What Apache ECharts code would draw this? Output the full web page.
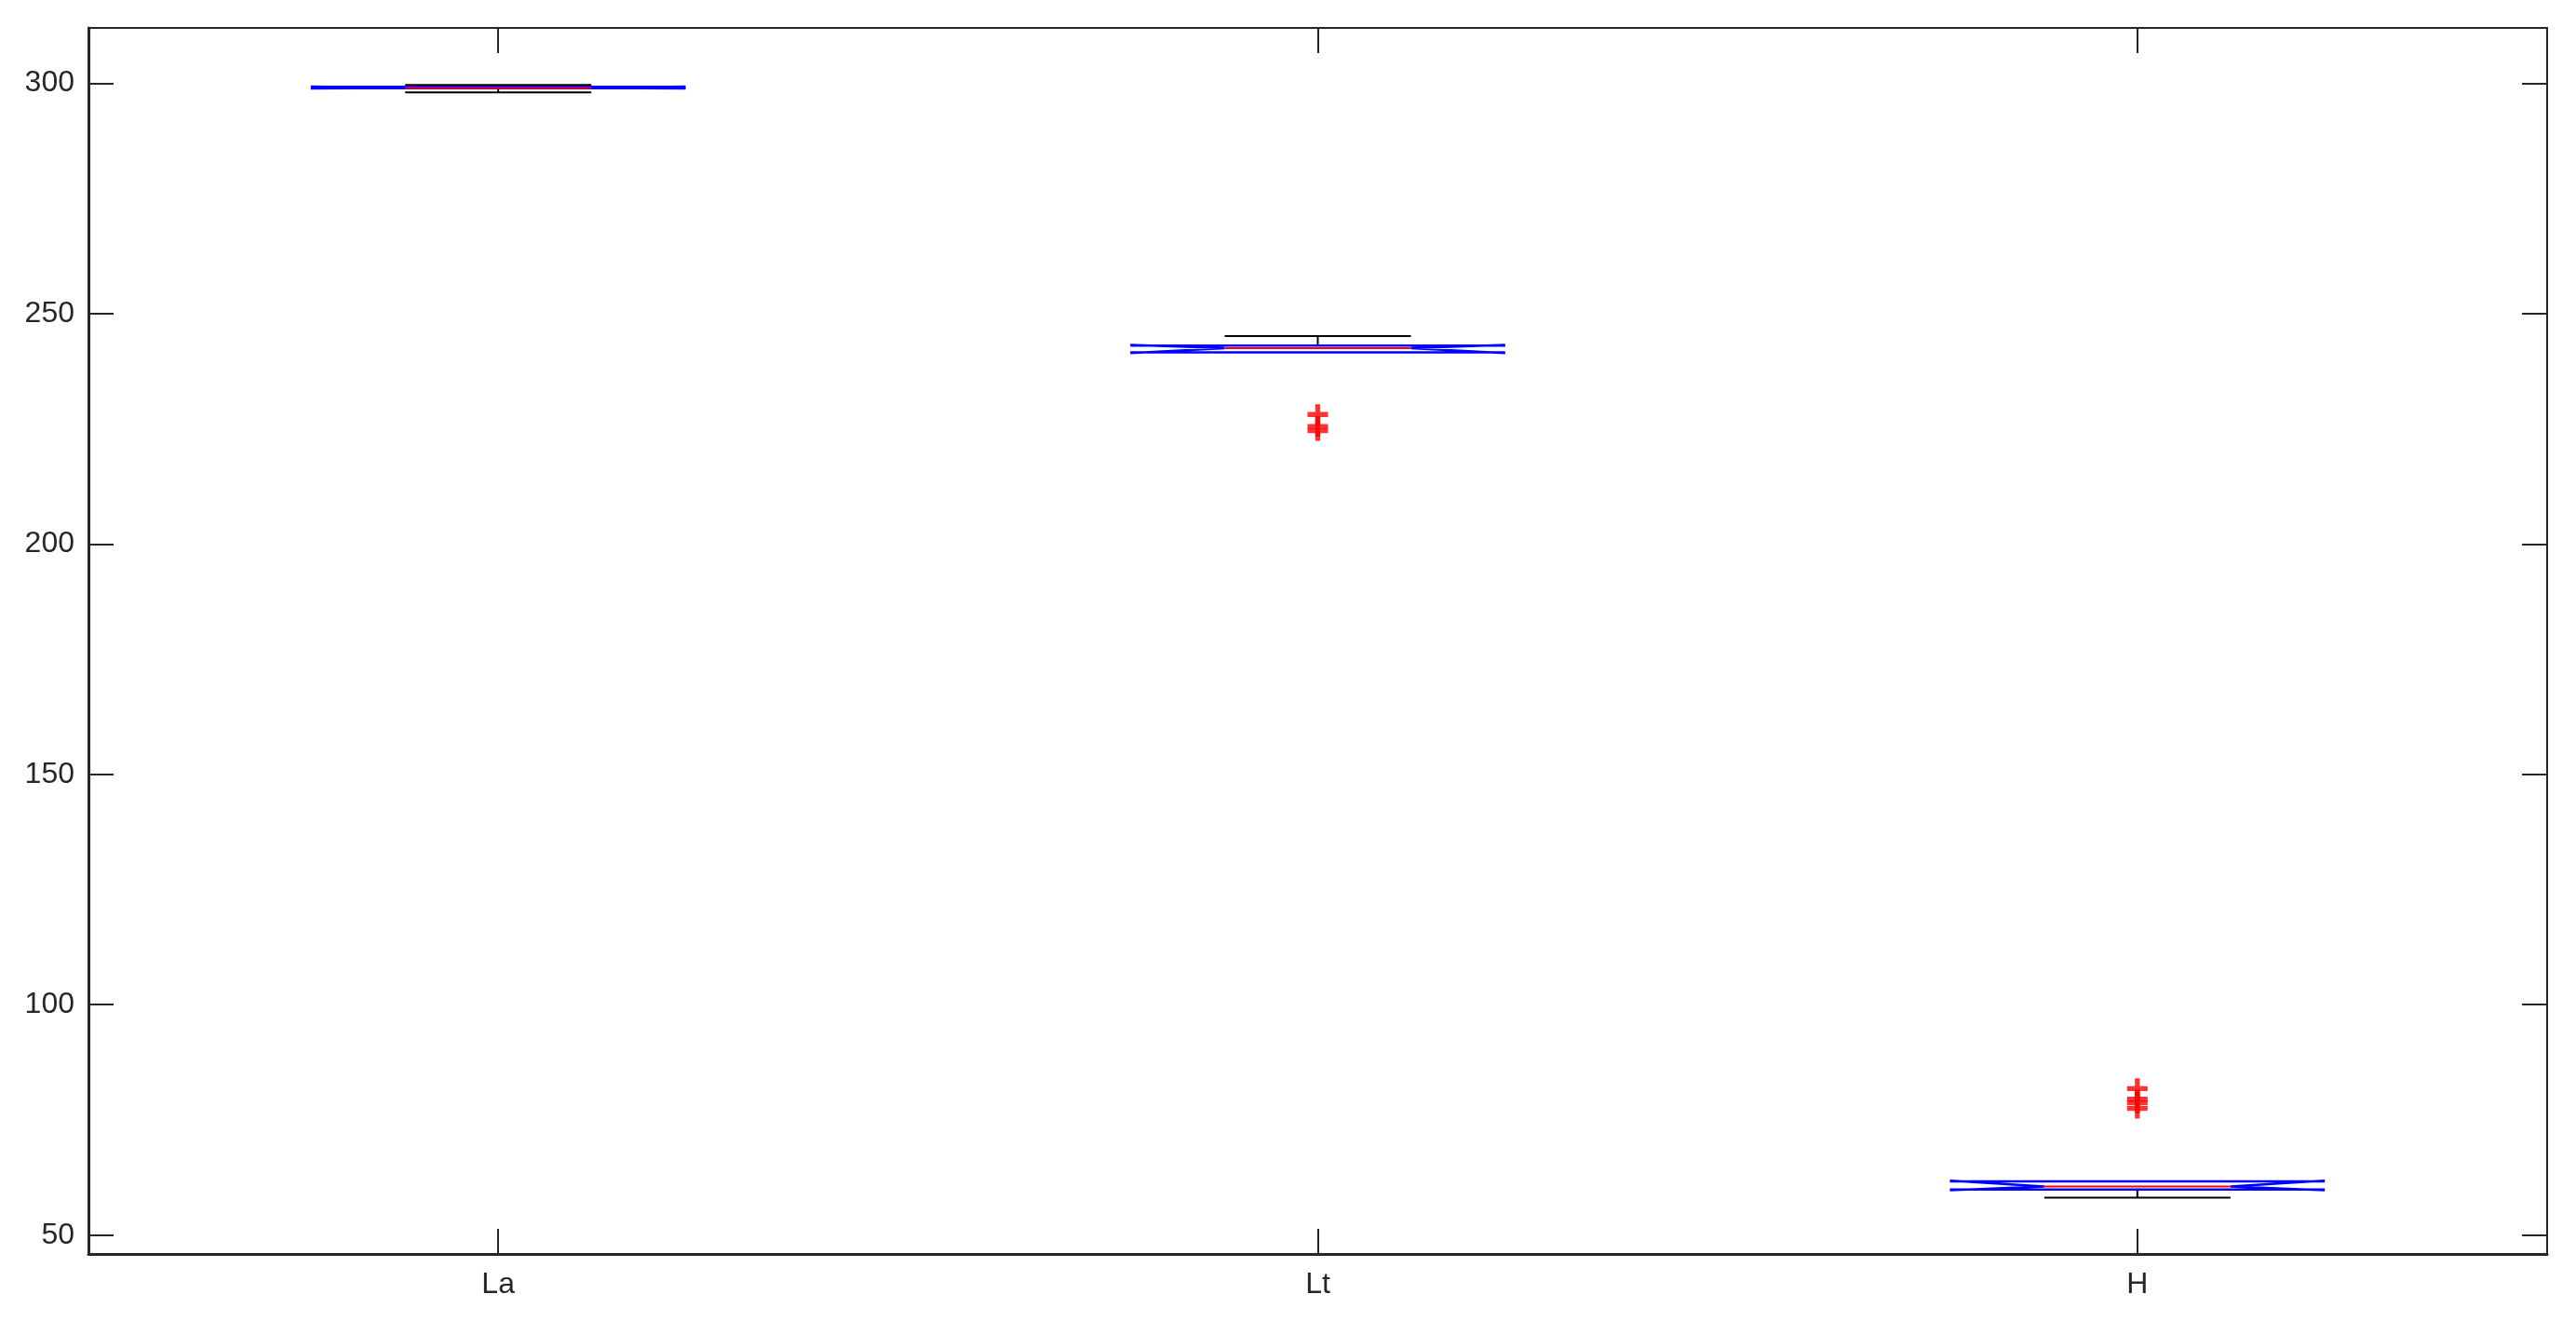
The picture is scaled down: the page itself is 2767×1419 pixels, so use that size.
<!DOCTYPE html>
<html>
<head>
<meta charset="utf-8">
<script src="https://cdn.jsdelivr.net/npm/echarts@6/dist/echarts.min.js"></script>
<style>
html,body{margin:0;padding:0;background:#fff;}
#chart{width:2767px;height:1419px;}
</style>
</head>
<body>
<div id="chart"></div>
<script>
const categories = ['La', 'Lt', 'H'];
const lowerWhisker = [298.0, 241.6, 58.1];
const q1 = [298.9, 241.6, 59.9];
const median = [298.95, 242.5, 60.55];
const q3 = [299.2, 243.05, 61.65];
const upperWhisker = [299.6, 245.1, 61.65];
const notchLow = [298.85, 241.45, 59.75];
const notchHigh = [299.25, 243.2, 61.8];
const outliers = [[], [228.1, 225.5, 224.6], [81.8, 79.5, 78.7, 77.5]];
const yMin = 45.9, yMax = 312;

const boxData = categories.map((c, i) => [i, lowerWhisker[i], q1[i], median[i], q3[i], upperWhisker[i], notchLow[i], notchHigh[i]]);
const outlierData = [];
outliers.forEach((arr, i) => arr.forEach(v => outlierData.push([i, v])));

function renderBox(params, api) {
  const i = api.value(0);
  const band = api.size([1, 0])[0];
  const bw = band * 0.2273, nw = band * 0.1136;
  const cx = api.coord([i, api.value(3)])[0];
  const y = v => api.coord([i, v])[1];
  const lo = y(api.value(1)), a = y(api.value(2)), m = y(api.value(3)), b = y(api.value(4)),
        hi = y(api.value(5)), nl = y(api.value(6)), nh = y(api.value(7));
  const L = cx - bw, R = cx + bw, NL = cx - nw, NR = cx + nw;
  const blk = {stroke: '#000', lineWidth: 2};
  const children = [];
  if (Math.abs(hi - b) > 0.5) children.push({type: 'line', shape: {x1: cx, y1: b, x2: cx, y2: hi}, style: blk});
  if (Math.abs(hi - b) > 0.5) children.push({type: 'line', shape: {x1: NL, y1: hi, x2: NR, y2: hi}, style: blk});
  if (Math.abs(lo - a) > 0.5) children.push({type: 'line', shape: {x1: cx, y1: a, x2: cx, y2: lo}, style: blk});
  if (Math.abs(lo - a) > 0.5) children.push({type: 'line', shape: {x1: NL, y1: lo, x2: NR, y2: lo}, style: blk});
  children.push({type: 'polygon', shape: {points: [[L, a], [L, nl], [NL, m], [L, nh], [L, b], [R, b], [R, nh], [NR, m], [R, nl], [R, a]]},
    style: {fill: 'none', stroke: '#0000ff', lineWidth: 2.5}});
  children.push({type: 'line', shape: {x1: NL, y1: m, x2: NR, y2: m}, style: {stroke: '#ff0000', lineWidth: 2}});
  return {type: 'group', children: children};
}

const labelStyle = {fontFamily: 'Liberation Sans', fontSize: 32, color: '#262626'};
const axisColor = '#262626';

const option = {
  animation: false,
  backgroundColor: '#ffffff',
  grid: {left: 95, right: 31, top: 30, bottom: 72, containLabel: false},
  xAxis: [
    {type: 'category', data: categories, position: 'bottom', boundaryGap: true,
     axisLine: {show: true, lineStyle: {color: axisColor, width: 3}},
     axisTick: {show: true, interval: 0, inside: true, length: 27, alignWithLabel: true, lineStyle: {color: axisColor, width: 2}},
     axisLabel: Object.assign({margin: 17, interval: 0}, labelStyle),
     splitLine: {show: false}},
    {type: 'category', data: categories, position: 'top', boundaryGap: true,
     axisLine: {show: true, lineStyle: {color: axisColor, width: 2}},
     axisTick: {show: true, interval: 0, inside: true, length: 27, alignWithLabel: true, lineStyle: {color: axisColor, width: 2}},
     axisLabel: {show: false}, splitLine: {show: false}}
  ],
  yAxis: [
    {type: 'value', min: yMin, max: yMax, position: 'left', splitNumber: 5,
     axisLine: {show: true, lineStyle: {color: axisColor, width: 3}},
     axisTick: {show: true, inside: true, length: 27, lineStyle: {color: axisColor, width: 2}},
     axisLabel: Object.assign({margin: 15, showMinLabel: false, showMaxLabel: false}, labelStyle),
     splitLine: {show: false}},
    {type: 'value', min: yMin, max: yMax, position: 'right', splitNumber: 5,
     axisLine: {show: true, lineStyle: {color: axisColor, width: 2}},
     axisTick: {show: true, inside: true, length: 27, lineStyle: {color: axisColor, width: 2}},
     axisLabel: {show: false}, splitLine: {show: false}}
  ],
  series: [
    {type: 'custom', xAxisIndex: 0, yAxisIndex: 0, data: boxData, renderItem: renderBox,
     encode: {x: 0, y: [1, 2, 3, 4, 5]}, clip: false, z: 3},
    {type: 'scatter', xAxisIndex: 0, yAxisIndex: 0, data: outlierData,
     symbol: 'path://M7.6,0H12.4V20H7.6Z M0,7.6H20V12.4H0Z', symbolSize: 22,
     itemStyle: {color: '#ff0000'}, z: 4}
  ]
};

const chart = echarts.init(document.getElementById('chart'), null, {renderer: 'canvas'});
chart.setOption(option);
</script>
</body>
</html>
